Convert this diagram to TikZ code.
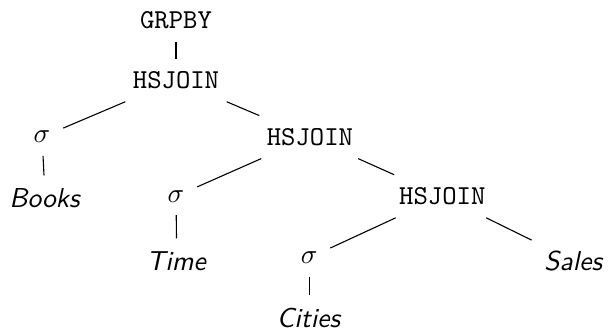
\documentclass[tikz,border=0pt]{standalone}
\usepackage{tikz}
\usepackage{amsmath,amssymb}
\newcommand{\op}[1]{\texttt{#1}}
\newcommand{\rel}[1]{\textsf{\textit{#1}}}
\begin{document}
\begin{tikzpicture}[every node/.style={inner sep=4.5pt},
                    edge/.style={-,draw=black,thin}]
 \useasboundingbox (0,0) rectangle (7.82,-4.26);

 \draw (2.26,-0.26) node (G)  {\op{GRPBY}};
 \draw (2.26,-1.03) node (J1) {\op{HSJOIN}};
 \draw (0.54,-1.76) node (S1) {$\sigma$};
 \draw (0.58,-2.54) node (B)  {\rel{Books}};
 \draw (3.98,-1.76) node (J2) {\op{HSJOIN}};
 \draw (2.26,-2.52) node (S2) {$\sigma$};
 \draw (2.27,-3.35) node (T)  {\rel{Time}};
 \draw (5.68,-2.52) node (J3) {\op{HSJOIN}};
 \draw (3.97,-3.31) node (S3) {$\sigma$};
 \draw (3.97,-4.08) node (C)  {\rel{Cities}};
 \draw (7.37,-3.35) node (Sa) {\rel{Sales}};

 \draw[edge] (G) -- (J1);
 \draw[edge] (J1) -- (S1);
 \draw[edge] (J1) -- (J2);
 \draw[edge] (S1) -- (B);
 \draw[edge] (J2) -- (S2);
 \draw[edge] (J2) -- (J3);
 \draw[edge] (S2) -- (T);
 \draw[edge] (J3) -- (S3);
 \draw[edge] (J3) -- (Sa);
 \draw[edge] (S3) -- (C);
\end{tikzpicture}
\end{document}
